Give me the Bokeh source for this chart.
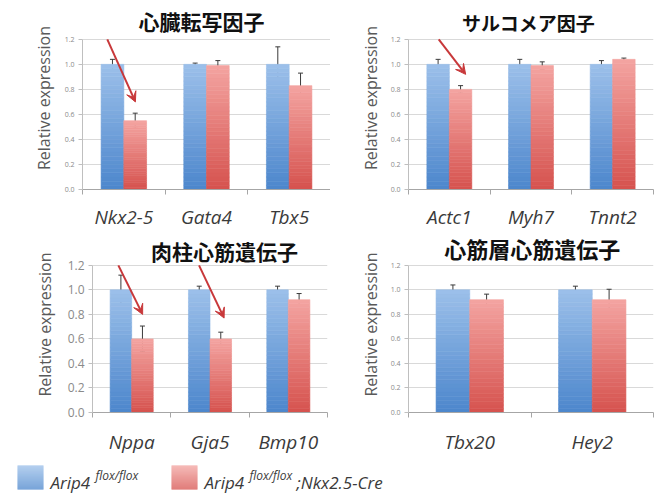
from bokeh.plotting import figure
from bokeh.layouts import column, row
from bokeh.models import (Range1d, FixedTicker, NumeralTickFormatter, Whisker, TeeHead,
                          ColumnDataSource, Arrow, VeeHead)
from bokeh.core.properties import value
from bokeh.embed import file_html
from bokeh.resources import INLINE

# ---------------- data ----------------
p1_title = "心臓転写因子"
p1_genes = ["Nkx2-5", "Gata4", "Tbx5"]
p1_ctrl = [1.0, 1.0, 1.0]
p1_ctrl_err = [0.04, 0.01, 0.14]
p1_cko = [0.55, 0.99, 0.83]
p1_cko_err = [0.06, 0.04, 0.10]

p2_title = "サルコメア因子"
p2_genes = ["Actc1", "Myh7", "Tnnt2"]
p2_ctrl = [1.0, 1.0, 1.0]
p2_ctrl_err = [0.04, 0.04, 0.03]
p2_cko = [0.80, 0.99, 1.04]
p2_cko_err = [0.03, 0.03, 0.01]

p3_title = "肉柱心筋遺伝子"
p3_genes = ["Nppa", "Gja5", "Bmp10"]
p3_ctrl = [1.0, 1.0, 1.0]
p3_ctrl_err = [0.12, 0.03, 0.03]
p3_cko = [0.60, 0.60, 0.92]
p3_cko_err = [0.105, 0.055, 0.05]

p4_title = "心筋層心筋遺伝子"
p4_genes = ["Tbx20", "Hey2"]
p4_ctrl = [1.0, 1.0]
p4_ctrl_err = [0.04, 0.03]
p4_cko = [0.92, 0.92]
p4_cko_err = [0.045, 0.085]

y_ticks = [0.0, 0.2, 0.4, 0.6, 0.8, 1.0, 1.2]
Y_MAX = 1.2

# arrows: (x_start, y_start, x_end, y_end) in category units
p1_arrows = [(0.30, 1.2, 0.64, 0.70)]
p2_arrows = [(0.37, 1.2, 0.70, 0.92)]
p3_arrows = [(0.33, 1.2, 0.64, 0.80), (1.36, 1.2, 1.68, 0.77)]
p4_arrows = []

legend_ctrl = ("Arip4", "flox/flox", "")
legend_cko = ("Arip4", "flox/flox", ";Nkx2.5-Cre")

BLUE_BOTTOM = (76, 134, 204)
BLUE_TOP = (156, 192, 234)
RED_BOTTOM = (214, 82, 78)
RED_TOP = (243, 164, 161)
NSEG = 30
BAR_W = 0.275


def mix(c0, c1, t):
    return "#%02x%02x%02x" % tuple(int(round(a + (b - a) * t)) for a, b in zip(c0, c1))


def gradient_bars(p, xs, vals, c_bottom, c_top):
    x, b, t, col = [], [], [], []
    for xi, v in zip(xs, vals):
        for k in range(NSEG):
            x.append(xi)
            b.append(v * k / NSEG)
            t.append(v * (k + 1) / NSEG)
            col.append(mix(c_bottom, c_top, (k + 0.5) / NSEG))
    src = ColumnDataSource(dict(x=x, b=b, t=t, c=col))
    p.vbar(x="x", bottom="b", top="t", width=BAR_W, fill_color="c", line_color="c",
           line_width=0.6, source=src)


def panel(title, genes, ctrl, ctrl_err, cko, cko_err, arrows, w, h, bl, br, bt, bb,
          px_top, px_zero, px_max, title_px_y, title_x, title_size,
          tick_size, label_standoff, ylab_standoff):
    """px_top/px_zero/px_max: pixel rows (inside the figure) of frame top, y=0, y=Y_MAX."""
    n = len(genes)
    per_px = Y_MAX / (px_zero - px_max)
    y_top = (px_zero - px_top) * per_px
    p = figure(width=w, height=h, x_range=Range1d(0, n), y_range=Range1d(0, y_top),
               output_backend="svg", toolbar_location=None, title=None,
               min_border_left=bl, min_border_right=br, min_border_top=bt,
               min_border_bottom=bb)
    p.outline_line_color = None
    p.background_fill_color = "white"
    p.border_fill_color = "white"

    centers = [i + 0.5 for i in range(n)]
    xc = [c - BAR_W / 2 for c in centers]
    xr = [c + BAR_W / 2 for c in centers]
    gradient_bars(p, xc, ctrl, BLUE_BOTTOM, BLUE_TOP)
    gradient_bars(p, xr, cko, RED_BOTTOM, RED_TOP)

    for xs, vals, errs in ((xc, ctrl, ctrl_err), (xr, cko, cko_err)):
        src = ColumnDataSource(dict(x=xs, up=[v + e for v, e in zip(vals, errs)],
                                    lo=[v - e for v, e in zip(vals, errs)]))
        p.add_layout(Whisker(source=src, base="x", upper="up", lower="lo",
                             dimension="height", line_color="#3a3a3a", line_width=1,
                             upper_head=TeeHead(size=5, line_color="#3a3a3a", line_width=1),
                             lower_head=TeeHead(size=5, line_color="#3a3a3a", line_width=1)))

    for (x0, y0, x1, y1) in arrows:
        p.add_layout(Arrow(x_start=x0, y_start=y0, x_end=x1, y_end=y1,
                           line_color="#c8383a", line_width=2,
                           end=VeeHead(size=10, fill_color="#c8383a", line_color="#c8383a")))

    # panel title (inside the frame, above the top gridline)
    p.text(x=[title_x], y=[(px_zero - title_px_y) * per_px], text=[title],
           text_align="center", text_baseline="middle",
           text_font=value("Noto Sans CJK JP"), text_font_style="bold",
           text_font_size=title_size, text_color="#111111")

    xa = p.xaxis[0]
    xa.ticker = FixedTicker(ticks=centers, minor_ticks=list(range(n + 1)))
    xa.major_label_overrides = {c: g for c, g in zip(centers, genes)}
    xa.major_tick_line_color = None
    xa.major_tick_out = 0
    xa.major_tick_in = 0
    xa.minor_tick_line_color = "#a6a6a6"
    xa.minor_tick_out = 5
    xa.minor_tick_in = 0
    xa.axis_line_color = "#a6a6a6"
    xa.major_label_text_font = "Open Sans"
    xa.major_label_text_font_style = "italic"
    xa.major_label_text_font_size = "19px"
    xa.major_label_text_color = "#3a3a3a"
    xa.major_label_standoff = label_standoff

    ya = p.yaxis[0]
    ya.bounds = (0, Y_MAX)
    ya.ticker = FixedTicker(ticks=y_ticks)
    ya.formatter = NumeralTickFormatter(format="0.0")
    ya.axis_line_color = "#bfbfbf"
    ya.major_tick_line_color = "#bfbfbf"
    ya.major_tick_out = 4
    ya.major_tick_in = 0
    ya.minor_tick_line_color = None
    ya.major_label_text_font = "Open Sans"
    ya.major_label_text_font_size = tick_size
    ya.major_label_text_color = "#8a8a8a"
    ya.major_label_standoff = 4
    ya.axis_label = "Relative expression"
    ya.axis_label_text_font = "Open Sans"
    ya.axis_label_text_font_style = "normal"
    ya.axis_label_text_font_size = "16px"
    ya.axis_label_text_color = "#595959"
    ya.axis_label_standoff = ylab_standoff

    p.xgrid.grid_line_color = None
    p.ygrid.ticker = FixedTicker(ticks=y_ticks)
    p.ygrid.grid_line_color = "#d9d9d9"
    return p


# top row: figure rows 0..232, frame 6..190
f1 = panel(p1_title, p1_genes, p1_ctrl, p1_ctrl_err, p1_cko, p1_cko_err, p1_arrows,
           330, 232, 82, 0, 6, 42, 6, 190, 39, 20.5, 1.44, "21px", "7px", 9, 7)
f2 = panel(p2_title, p2_genes, p2_ctrl, p2_ctrl_err, p2_cko, p2_cko_err, p2_arrows,
           330, 232, 78, 7, 6, 42, 6, 190, 39, 22.5, 1.47, "19px", "7px", 9, 6)
# bottom row: figure rows 0..225 (page 232..457), frame 4..181
f3 = panel(p3_title, p3_genes, p3_ctrl, p3_ctrl_err, p3_cko, p3_cko_err, p3_arrows,
           330, 225, 92, 3, 4, 44, 4, 181, 33, 19, 1.685, "21px", "12px", 11, 9)
f4 = panel(p4_title, p4_genes, p4_ctrl, p4_ctrl_err, p4_cko, p4_cko_err, p4_arrows,
           330, 225, 78, 7, 4, 44, 4, 181, 33, 15.5, 1.01, "22px", "7px", 11, 6)

# legend strip (pixel coordinates, y measured downward)
LEG_H = 37
leg = figure(width=660, height=LEG_H, x_range=Range1d(0, 660), y_range=Range1d(LEG_H, 0),
             output_backend="svg", toolbar_location=None, title=None, min_border=0)
leg.axis.visible = False
leg.grid.visible = False
leg.outline_line_color = None
leg_items = [(17, legend_ctrl, BLUE_BOTTOM, BLUE_TOP), (171, legend_cko, RED_BOTTOM, RED_TOP)]
for x0, (main, sup, tail), cb, ct in leg_items:
    for k in range(24):
        leg.quad(left=x0, right=x0 + 26, top=8 + k, bottom=9 + k,
                 fill_color=mix(ct, cb, (k + 0.5) / 24), line_color=None)
    leg.text(x=[x0 + 33], y=[25], text=[main], text_font=value("Open Sans"),
             text_font_style="italic", text_font_size="17px", text_color="#3a3a3a",
             text_baseline="alphabetic", text_align="left")
    leg.text(x=[x0 + 78], y=[18], text=[sup], text_font=value("Open Sans"),
             text_font_style="italic", text_font_size="12px", text_color="#3a3a3a",
             text_baseline="alphabetic", text_align="left")
    if tail:
        leg.text(x=[x0 + 125], y=[25], text=[tail], text_font=value("Open Sans"),
                 text_font_style="italic", text_font_size="17px", text_color="#3a3a3a",
                 text_baseline="alphabetic", text_align="left")

layout = column(row(f1, f2), row(f3, f4), leg)
open("out.html", "w").write(file_html(layout, INLINE))
